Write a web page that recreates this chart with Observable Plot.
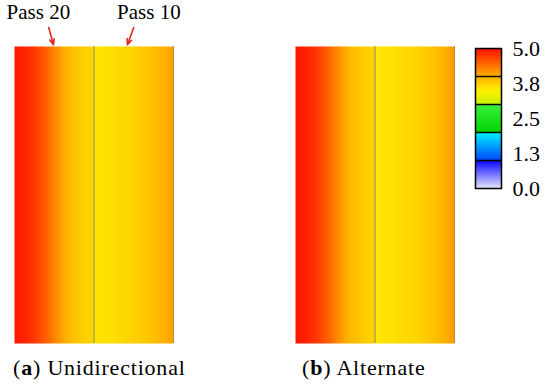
<!DOCTYPE html>
<html><head><meta charset="utf-8">
<script src="https://cdn.jsdelivr.net/npm/d3@7"></script>
<script src="https://cdn.jsdelivr.net/npm/@observablehq/plot@0.6"></script>
<style>
html,body{margin:0;padding:0;background:#fff;}
#fig{position:relative;width:550px;height:386px;overflow:hidden;font-family:"Liberation Serif","Times New Roman",serif;}
#fig svg text{font-family:"Liberation Serif","Times New Roman",serif !important;}
.cap{position:absolute;font-size:22px;letter-spacing:0.8px;line-height:22px;color:#000;white-space:nowrap;font-family:"Liberation Serif","Times New Roman",serif;}
</style></head><body><div id="fig"></div>
<script>
// ---- data ----
const positionsMm = [0, 1, 2.5, 4, 5, 6, 7, 8.5, 9.9, 10.1, 12, 14.5, 17, 19, 20];
const unidirectionalValues = [4.94, 4.91, 4.75, 4.5, 4.28, 4.08, 3.91, 3.78, 3.70, 3.59, 3.63, 3.72, 3.84, 4.0, 4.11];
const alternateValues = [4.95, 4.92, 4.78, 4.52, 4.3, 4.1, 3.93, 3.8, 3.72, 3.58, 3.62, 3.7, 3.82, 4.02, 4.16];
const passBoundaryMm = 10;
const wallWidthMm = 20;
const passNames = ["Pass 20", "Pass 10"];
const passArrowHeadMm = [4.9, 14.2];
const passArrowTailMm = [4.3, 15.0];
const passLabelMm = [3.0, 16.9];
const legendTicks = [0, 1.25, 2.5, 3.75, 5];
const legendTickLabels = ["0.0", "1.3", "2.5", "3.8", "5.0"];
const colorStopValues = [0, 1, 1, 2, 2, 3, 3, 3.5, 4, 4.5, 5];
const colorStopColors = ["#e6e6ff", "#0808ff", "#0044ff", "#00f4ff", "#00d400", "#3cf03c", "#c4f000", "#fff000", "#ffb000", "#ff6000", "#ff1000"];
const captions = [["a", "Unidirectional"], ["b", "Alternate"]];

// ---- shared colour scale ----
const ramp = d3.scaleLinear().domain(colorStopValues).range(colorStopColors).clamp(true);
const colorOpts = {type: "linear", domain: [0, 5], interpolate: t => ramp(t * 5)};
const fig = document.getElementById("fig");
const FONT = "Liberation Serif";
const svgStyle = {overflow: "visible", background: "transparent", fontFamily: FONT};

function panel(values, annotate) {
  const pts = positionsMm.flatMap((x, i) => [0, 100].map(y => ({x, y, v: values[i]})));
  const marks = [
    Plot.raster(pts, {x: "x", y: "y", fill: "v", x1: 0, x2: wallWidthMm, y1: 0, y2: 100,
      interpolate: "barycentric", pixelSize: 1}),
    Plot.ruleX([passBoundaryMm], {y1: 0, y2: 100, stroke: "#9c9a5c", strokeWidth: 1.2}),
    Plot.ruleX([wallWidthMm], {y1: 0, y2: 100, stroke: "#c0902a", strokeWidth: 1})
  ];
  if (annotate) {
    const ann = passNames.map((name, i) => ({name, head: passArrowHeadMm[i], tail: passArrowTailMm[i], lab: passLabelMm[i]}));
    marks.push(
      Plot.arrow(ann, {x1: "tail", x2: "head", y1: 106.4, y2: 100.6, stroke: "#e3261e", strokeWidth: 1.6, headLength: 6, headAngle: 45}),
      Plot.text(ann, {x: "lab", y: 109.3, text: "name", fontSize: 21, fontFamily: FONT, lineAnchor: "bottom", textAnchor: "middle", fill: "#000"})
    );
  }
  return Plot.plot({
    width: 183, height: 345, marginLeft: 14, marginRight: 10, marginTop: 46, marginBottom: 2,
    x: {domain: [0, wallWidthMm], axis: null},
    y: {domain: [0, 100], axis: null},
    color: colorOpts,
    style: svgStyle,
    marks
  });
}

function place(el, left, top) {
  el.style.position = "absolute";
  el.style.left = left + "px";
  el.style.top = top + "px";
  fig.appendChild(el);
}

place(panel(unidirectionalValues, true), 0, 0);
place(panel(alternateValues, false), 281, 0);

const bar = Plot.plot({
  width: 90, height: 200, marginLeft: 15, marginRight: 49, marginTop: 48, marginBottom: 12,
  x: {domain: [0, 1], axis: null},
  y: {domain: [0, 5], axis: null},
  color: colorOpts,
  style: svgStyle,
  marks: [
    Plot.raster({x1: 0, x2: 1, y1: 0, y2: 5, fill: (x, y) => y, pixelSize: 1}),
    Plot.ruleY([1, 2, 3, 4], {x1: 0, x2: 1, stroke: "#000", strokeWidth: 1.5}),
    Plot.frame({stroke: "#000", strokeWidth: 1.5}),
    Plot.text(legendTicks, {x: 1, y: d => d, text: (d, i) => legendTickLabels[i], dx: 11, textAnchor: "start", fontSize: 22, fontFamily: FONT, fill: "#000"})
  ]
});
place(bar, 460, 0);

const capLeft = [13, 302];
captions.forEach(([letter, word], i) => {
  const d = document.createElement("div");
  d.className = "cap";
  d.style.left = capLeft[i] + "px";
  d.style.top = "357px";
  d.innerHTML = "(<b>" + letter + "</b>) " + word;
  fig.appendChild(d);
});
</script></body></html>
